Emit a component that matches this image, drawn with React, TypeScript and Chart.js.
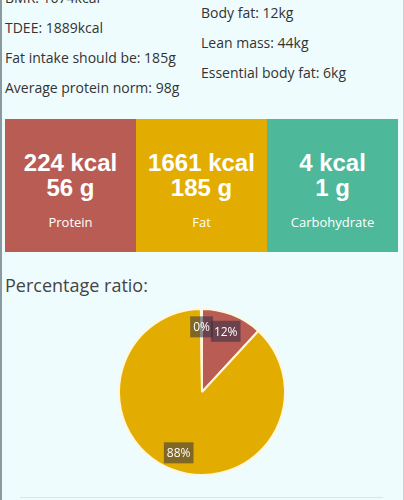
import React, { useEffect, useRef } from "react";
import { Chart, registerables } from "chart.js";

Chart.register(...registerables);

const categories = ["Protein", "Fat", "Carbohydrate"];
const kcalValues = [224, 1661, 4];
const gramValues = [56, 185, 1];
const sliceColors = ["#b95d54", "#e2ad00", "#4db89a"];

const leftInfo = [
  "BMR: 1674kcal",
  "TDEE: 1889kcal",
  "Fat intake should be: 185g",
  "Average protein norm: 98g",
];
const rightInfo = ["Body fat: 12kg", "Lean mass: 44kg", "Essential body fat: 6kg"];

const textFont = "'Open Sans', Lato, sans-serif";

const labelPlugin = {
  id: "sliceLabels",
  afterDatasetsDraw(chart: any) {
    const ctx = chart.ctx;
    const meta = chart.getDatasetMeta(0);
    const data = chart.data.datasets[0].data as number[];
    const total = data.reduce((a, b) => a + b, 0);
    ctx.save();
    ctx.font = "12px " + textFont;
    ctx.textAlign = "center";
    ctx.textBaseline = "middle";
    meta.data.forEach((arc: any, i: number) => {
      const p = arc.getProps(["x", "y", "startAngle", "endAngle", "outerRadius"], true);
      const mid = (p.startAngle + p.endAngle) / 2;
      const r = p.outerRadius * 0.785;
      const x = p.x + Math.cos(mid) * r;
      const y = p.y + Math.sin(mid) * r;
      const txt = Math.round((data[i] / total) * 100) + "%";
      const w = ctx.measureText(txt).width + 6;
      const h = 21;
      ctx.fillStyle = "rgba(45,45,70,0.55)";
      ctx.fillRect(x - w / 2, y - h / 2, w, h);
      ctx.fillStyle = "#ffffff";
      ctx.fillText(txt, x, y + 1);
    });
    ctx.restore();
  },
};

function PieChart() {
  const ref = useRef<HTMLCanvasElement | null>(null);
  useEffect(() => {
    if (!ref.current) return;
    const chart = new Chart(ref.current, {
      type: "pie",
      data: {
        labels: categories,
        datasets: [
          {
            data: kcalValues,
            backgroundColor: sliceColors,
            borderColor: "#fff6dc",
            borderWidth: 2,
          },
        ],
      },
      options: {
        animation: false,
        responsive: false,
        layout: { padding: 2 },
        plugins: { legend: { display: false }, tooltip: { enabled: false } },
      },
      plugins: [labelPlugin],
    });
    return () => chart.destroy();
  }, []);
  return (
    <canvas
      ref={ref}
      width={404}
      height={172}
      style={{ position: "absolute", left: 0, top: 306, width: 404, height: 172 }}
    />
  );
}

export default function App() {
  useEffect(() => {
    document.body.style.margin = "0";
  }, []);
  return (
    <div
      style={{
        position: "fixed",
        left: 0,
        top: 0,
        width: 404,
        height: 500,
        background: "#effcfe",
        overflow: "hidden",
        fontFamily: textFont,
        color: "#333",
      }}
    >
      <div style={{ position: "absolute", left: 0, top: 0, width: 2, height: 500, background: "#8a9b9f" }} />
      <div style={{ position: "absolute", right: 0, top: 0, width: 1, height: 500, background: "#c9d3d6" }} />
      {leftInfo.map((t, i) => (
        <div
          key={t}
          style={{ position: "absolute", left: 5, top: -12 + i * 30, fontSize: 14, lineHeight: "20px", whiteSpace: "nowrap" }}
        >
          {t}
        </div>
      ))}
      {rightInfo.map((t, i) => (
        <div
          key={t}
          style={{ position: "absolute", left: 201, top: 3 + i * 30, fontSize: 14, lineHeight: "20px", whiteSpace: "nowrap" }}
        >
          {t}
        </div>
      ))}
      <div style={{ position: "absolute", left: 5, top: 119, width: 393, height: 133, display: "flex" }}>
        {categories.map((c, i) => (
          <div
            key={c}
            style={{
              flex: 1,
              background: sliceColors[i],
              color: "#fff",
              textAlign: "center",
              position: "relative",
            }}
          >
            <div
              style={{
                position: "absolute",
                left: 0,
                right: 0,
                top: 31,
                fontFamily: "'Liberation Sans', Arial, sans-serif",
                fontWeight: "bold",
                fontSize: 24,
                lineHeight: "25px",
              }}
            >
              <div>{kcalValues[i]} kcal</div>
              <div>{gramValues[i]} g</div>
            </div>
            <div style={{ position: "absolute", left: 0, right: 0, top: 94, fontSize: 13, lineHeight: "18px" }}>
              {c}
            </div>
          </div>
        ))}
      </div>
      <div style={{ position: "absolute", left: 5, top: 273, fontSize: 18, lineHeight: "24px", color: "#444" }}>
        Percentage ratio:
      </div>
      <PieChart />
      <div style={{ position: "absolute", left: 20, top: 497, width: 363, height: 1, background: "#d8e6e9" }} />
    </div>
  );
}
